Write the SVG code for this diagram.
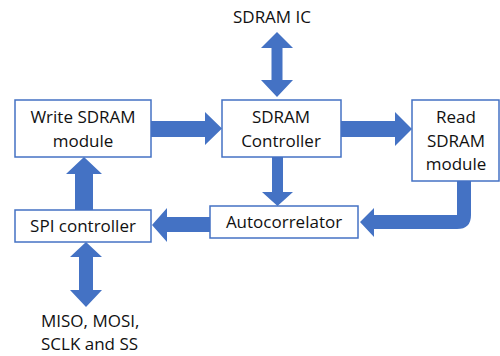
<svg xmlns="http://www.w3.org/2000/svg" width="500" height="356" viewBox="0 0 500 356">
<style>
.box{fill:#fff;stroke:#4472C4;stroke-width:1.5}
.arr{fill:#4472C4;stroke:none}
text{font-family:"Open Sans","Liberation Sans",Arial,sans-serif;font-size:17px;fill:#111;text-anchor:middle}
</style>
<rect width="500" height="356" fill="#fff"/>
<g id="connectors">
<polygon class="arr" points="151,121 205,121 205,112 222,128.5 205,145 205,137 151,137"/>
<polygon class="arr" points="341,121 395,121 395,112 412,129 395,146 395,137 341,137"/>
<polygon class="arr" points="277,32 293,48 282.5,48 282.5,80 293,80 277,97 261,80 271.5,80 271.5,48 261,48"/>
<polygon class="arr" points="272,157 283,157 283,192 293,192 277.5,206 262,192 272,192"/>
<path class="arr" d="M457,181 L471,181 L471,215 Q471,229 457,229 L374,229 L374,237 L360,222 L374,208 L374,215 L457,215 Z"/>
<polygon class="arr" points="210,217 167,217 167,208 152,225 167,242 167,232 210,232"/>
<polygon class="arr" points="75,210 75,174 66,174 84,157 102,174 93,174 93,210"/>
<polygon class="arr" points="86,242 102,257 93,257 93,290 102,290 86,307 70,290 79,290 79,257 70,257"/>
</g>
<g id="sdram-ic"><text x="272" y="23">SDRAM IC</text></g>
<g id="write-sdram">
<rect class="box" x="15" y="100" width="136" height="57"/>
<text x="83" y="123">Write SDRAM</text>
<text x="83" y="147">module</text>
</g>
<g id="sdram-controller">
<rect class="box" x="222" y="100" width="119" height="57"/>
<text x="281" y="123">SDRAM</text>
<text x="281" y="147">Controller</text>
</g>
<g id="read-sdram">
<rect class="box" x="412" y="100" width="87" height="81"/>
<text x="456" y="123">Read</text>
<text x="456" y="147">SDRAM</text>
<text x="456" y="170">module</text>
</g>
<g id="autocorrelator">
<rect class="box" x="210" y="206" width="148" height="32"/>
<text x="284" y="228">Autocorrelator</text>
</g>
<g id="spi-controller">
<rect class="box" x="15" y="210" width="136" height="32"/>
<text x="83" y="232">SPI controller</text>
</g>
<g id="spi-pins">
<text x="41" y="327" style="text-anchor:start">MISO, MOSI,</text>
<text x="41" y="350" style="text-anchor:start">SCLK and SS</text>
</g>
</svg>
